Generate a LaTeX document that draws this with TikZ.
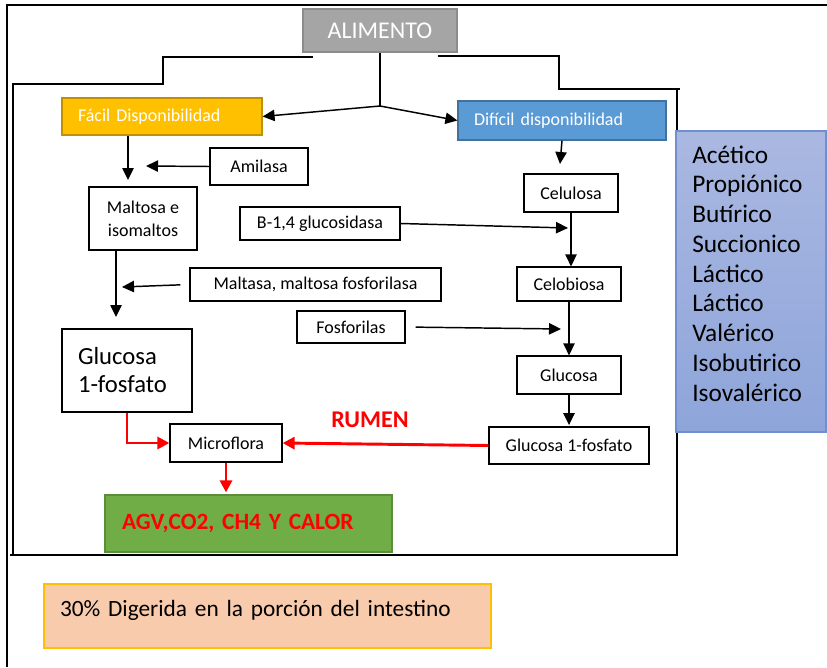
\documentclass[tikz,border=0pt]{standalone}
\usepackage{fontspec}
\setmainfont{Carlito}
\usetikzlibrary{arrows.meta}
\definecolor{gris}{HTML}{A5A5A5}
\definecolor{grisb}{HTML}{8C8C8C}
\definecolor{oro}{HTML}{FFC000}
\definecolor{orob}{HTML}{C09000}
\definecolor{azul}{HTML}{5B9BD5}
\definecolor{azulb}{HTML}{41719C}
\definecolor{lilat}{HTML}{AAB8E1}
\definecolor{lilab}{HTML}{8EA5DA}
\definecolor{lilaf}{HTML}{6F8FD0}
\definecolor{verde}{HTML}{70AD47}
\definecolor{verdeb}{HTML}{5A8E38}
\definecolor{durazno}{HTML}{F8CBAD}
\begin{document}
\begin{tikzpicture}[x=0.75pt,y=-0.75pt,
  caja/.style={draw=black,line width=0.9pt,inner sep=0pt,align=center,font=\fontsize{13.5}{17}\selectfont},
  flecha/.style={line width=1.1pt,-{Triangle[length=9pt,width=8.5pt]}},
  roja/.style={draw=red,line width=2.2pt,-{Triangle[length=9pt,width=9pt,fill=red]}},
  marco/.style={line width=1.1pt}]
\useasboundingbox (0,0) rectangle (827,667);
\draw[line width=1.5pt] (7,667) -- (7,5) -- (827,5);
\draw[marco] (13,556) -- (13,84) -- (163,84) -- (163,57) -- (313,57);
\draw[marco] (438,56) -- (559,56) -- (559,89) -- (680,89);
\draw[marco] (677,89) -- (677,556); \draw[line width=1.4pt] (10,555) -- (678,555);

\node[caja,fill=gris,draw=grisb,text=white,minimum width=115.5pt,minimum height=32.25pt,font=\fontsize{18}{21}\selectfont] (alimento) at (380,30.5) {ALIMENTO};
\node[caja,fill=oro,draw=orob,text=white,align=left,text width=126pt,inner xsep=12pt,minimum height=27.75pt,font=\fontsize{13.5}{16}\selectfont] (facil) at (162,116.5) {Fácil Disponibilidad};
\node[caja,fill=azul,draw=azulb,text=white,align=left,text width=132pt,inner xsep=12pt,minimum height=29.25pt,font=\fontsize{13.5}{16}\selectfont] (dificil) at (562,120.5) {Difícil disponibilidad};
\node[caja,minimum width=73.5pt,minimum height=27.75pt] (amilasa) at (259,166.5) {Amilasa};
\node[caja,minimum width=81pt,minimum height=47.25pt,font=\fontsize{13.5}{17}\selectfont] (maltosa) at (143,218.5) {Maltosa e\\isomaltos};
\node[caja,minimum width=120pt,minimum height=24.75pt] (bglu) at (320,223.5) {B-1,4 glucosidasa};
\node[caja,minimum width=188.25pt,minimum height=24.75pt] (maltasa) at (315.5,284.5) {Maltasa, maltosa fosforilasa};
\node[caja,minimum width=81pt,minimum height=24pt] (fosfo) at (351,327) {Fosforilas};
\node[caja,align=left,text width=73.5pt,inner xsep=12pt,minimum height=62.25pt,font=\fontsize{18.5}{21}\selectfont] (gluc1) at (127,370.5) {Glucosa\\1-fosfato};
\node[caja,minimum width=70.5pt,minimum height=28.5pt] (celulosa) at (571,193) {Celulosa};
\node[caja,minimum width=78pt,minimum height=25.5pt] (celobiosa) at (569,284) {Celobiosa};
\node[caja,minimum width=78pt,minimum height=28.5pt] (glucosa) at (569,375) {Glucosa};
\node[caja,minimum width=120pt,minimum height=27.75pt] (gluc1r) at (569,445.5) {Glucosa 1-fosfato};
\node[caja,minimum width=84pt,minimum height=28.5pt] (microflora) at (226,443) {Microflora};
\node[caja,fill=verde,draw=verdeb,text=red,align=left,text width=189.75pt,inner xsep=12.75pt,minimum height=42.75pt,font=\bfseries\fontsize{17.5}{21}\selectfont] (agv) at (248.5,523.5) {AGV,CO2, CH4 Y CALOR};
\node[text=red,font=\bfseries\fontsize{18}{21}\selectfont] (rumen) at (370,420) {RUMEN};
\node[draw=lilaf,line width=0.9pt,top color=lilat,bottom color=lilab,minimum width=112.5pt,minimum height=225.75pt,inner sep=0pt] (acidos) at (751,281.5) {};
\node[anchor=west,align=left,inner sep=0pt,font=\fontsize{19}{22.3}\selectfont] (acidostxt) at (692,273.5) {Acético\\Propiónico\\Butírico\\Succionico\\Láctico\\Láctico\\Valérico\\Isobutirico\\Isovalérico};
\node[caja,fill=durazno,draw=oro,align=left,text width=311.25pt,inner xsep=12pt,minimum height=48pt,text depth=12pt,font=\fontsize{17.5}{21}\selectfont] (intestino) at (267.5,616) {30\% Digerida en la porción del intestino};

\coordinate (split) at (380,106); \coordinate (a1) at (128,180); \coordinate (a2) at (146,166);
\coordinate (a3) at (116,317); \coordinate (a4) at (122,287); \coordinate (a5) at (568,228);
\coordinate (a6) at (561,329); \coordinate (a7) at (560,164);
\draw[line width=1.1pt] (alimento.south) -- (split);
\draw[flecha] (split) -- (facil.east); \draw[flecha] (split) -- (dificil.west);
\draw[flecha] (a1 |- facil.south) -- (a1); \draw[flecha] (amilasa.west) -- (a2);
\draw[flecha] (a3 |- maltosa.south) -- (a3); \draw[flecha,shorten <=6.75pt] (maltasa.west) -- (a4);
\draw[flecha] (bglu.east) -- (a5); \draw[flecha,shorten <=7.5pt] (fosfo.east) -- (a6);
\draw[flecha] (dificil.south) -- (a7);
\draw[flecha] (celulosa.south) -- (celulosa.south |- celobiosa.north);
\draw[flecha] (celobiosa.south) -- (glucosa.north);
\draw[flecha] (glucosa.south) -- ([yshift=1pt]gluc1r.north);
\draw[roja] (gluc1r.west) -- (microflora.east);
\draw[roja] (gluc1.south) |- (microflora.west);
\draw[roja] (microflora.south) -- ([yshift=1.5pt]microflora.south |- agv.north);
\end{tikzpicture}
\end{document}
